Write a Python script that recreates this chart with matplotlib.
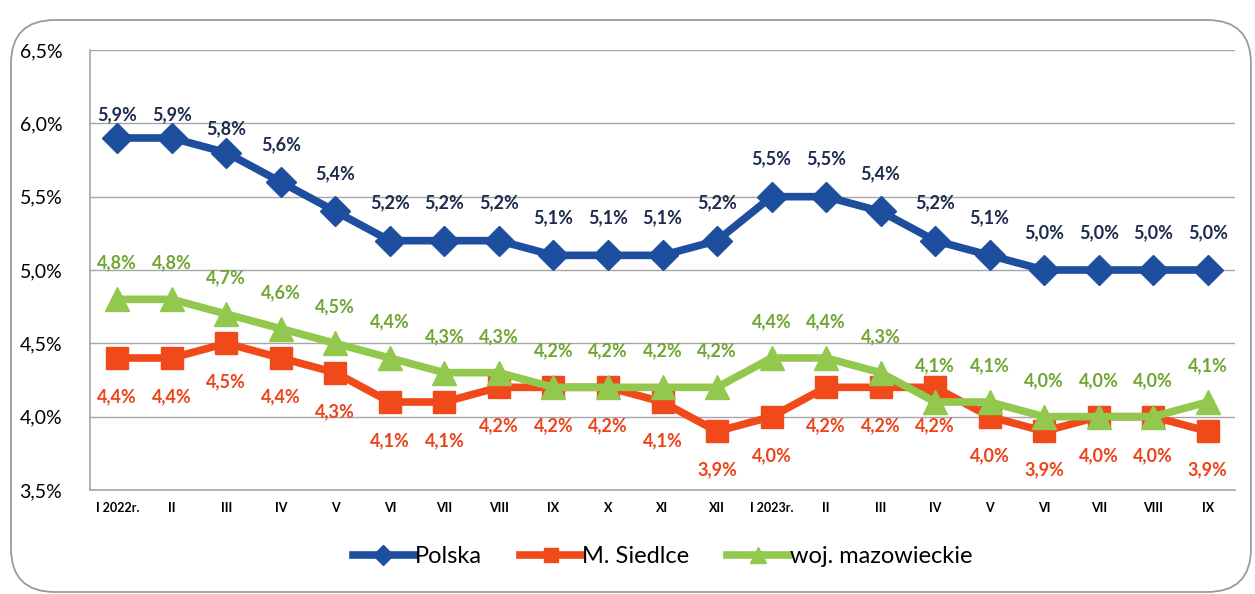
"""Unemployment rate line chart: Polska, M. Siedlce, woj. mazowieckie."""

import matplotlib
matplotlib.use("Agg")
import matplotlib.pyplot as plt
from matplotlib.patches import FancyBboxPatch
from matplotlib.ticker import FuncFormatter

# ==============================================================================
# DATA
# ==============================================================================

months = ["I 2022r.", "II", "III", "IV", "V", "VI", "VII", "VIII", "IX", "X", "XI", "XII",
          "I 2023r.", "II", "III", "IV", "V", "VI", "VII", "VIII", "IX"]

polska = [5.9, 5.9, 5.8, 5.6, 5.4, 5.2, 5.2, 5.2, 5.1, 5.1, 5.1, 5.2,
          5.5, 5.5, 5.4, 5.2, 5.1, 5.0, 5.0, 5.0, 5.0]
siedlce = [4.4, 4.4, 4.5, 4.4, 4.3, 4.1, 4.1, 4.2, 4.2, 4.2, 4.1, 3.9,
           4.0, 4.2, 4.2, 4.2, 4.0, 3.9, 4.0, 4.0, 3.9]
mazowieckie = [4.8, 4.8, 4.7, 4.6, 4.5, 4.4, 4.3, 4.3, 4.2, 4.2, 4.2, 4.2,
               4.4, 4.4, 4.3, 4.1, 4.1, 4.0, 4.0, 4.0, 4.1]

y_ticks = [3.5, 4.0, 4.5, 5.0, 5.5, 6.0, 6.5]

# ==============================================================================
# STYLE
# ==============================================================================

BLUE = "#1E4E9E"
RED = "#F04A1A"
GREEN = "#93C84E"
BLUE_TEXT = "#1C2B4E"
RED_TEXT = "#EC4318"
GREEN_TEXT = "#6FA632"
GRID = "#A6A6A6"

plt.rcParams["font.family"] = ["Lato", "DejaVu Sans"]


def pct(v):
    return f"{v:.1f}%".replace(".", ",")


def main():
    fig = plt.figure(figsize=(12.55, 5.94), dpi=100)

    # rounded outer frame
    frame = FancyBboxPatch((11 / 1255, 2 / 594), 1240 / 1255, 572 / 594,
                           boxstyle="round,pad=0,rounding_size=0.035",
                           transform=fig.transFigure, facecolor="none",
                           edgecolor="#9A9A9A", linewidth=1.3, mutation_aspect=2.1)
    fig.patches.append(frame)

    ax = fig.add_axes([90 / 1255, (594 - 490) / 594, 1145 / 1255, 440 / 594])
    x = list(range(len(months)))

    ax.plot(x, polska, color=BLUE, lw=5.5, marker="D", ms=15, label="Polska", zorder=5)
    ax.plot(x, siedlce, color=RED, lw=5.5, marker="s", ms=16, label="M. Siedlce", zorder=3)
    ax.plot(x, mazowieckie, color=GREEN, lw=5.5, marker="^", ms=17,
            label="woj. mazowieckie", zorder=4)

    for i, v in enumerate(polska):
        dy = 17 if i < 3 else 27
        ax.annotate(pct(v), (i, v), xytext=(0, dy), textcoords="offset points",
                    ha="center", va="center", fontsize=13, fontweight="bold",
                    color=BLUE_TEXT)
    for i, v in enumerate(mazowieckie):
        ax.annotate(pct(v), (i, v), xytext=(0, 26), textcoords="offset points",
                    ha="center", va="center", fontsize=13, fontweight="bold",
                    color=GREEN_TEXT)
    for i, v in enumerate(siedlce):
        ax.annotate(pct(v), (i, v), xytext=(0, -28), textcoords="offset points",
                    ha="center", va="center", fontsize=13, fontweight="bold",
                    color=RED_TEXT)

    ax.set_xlim(-0.5, len(months) - 0.5)
    ax.set_ylim(3.5, 6.5)
    ax.set_yticks(y_ticks)
    ax.yaxis.set_major_formatter(FuncFormatter(lambda v, _: pct(v)))
    ax.set_xticks(x)
    ax.set_xticklabels(months, fontsize=9, fontweight="bold")
    ax.tick_params(axis="y", labelsize=14, length=0, pad=20)
    ax.tick_params(axis="x", length=0, pad=9)

    ax.grid(True, axis="y", color=GRID, lw=1)
    ax.set_axisbelow(True)
    ax.spines["right"].set_visible(False)
    ax.spines["top"].set_visible(False)
    ax.spines["left"].set_color(GRID)
    ax.spines["bottom"].set_color(GRID)
    ax.spines["left"].set_linewidth(1.2)
    ax.spines["bottom"].set_linewidth(1.2)

    ax.legend(loc="center", bbox_to_anchor=(0.5, -0.152), ncol=3, frameon=False,
              fontsize=17, handlelength=2.6, handletextpad=0.05, columnspacing=1.6,
              markerscale=0.65)

    fig.savefig("out.png", dpi=100)
    plt.close(fig)


if __name__ == "__main__":
    main()
